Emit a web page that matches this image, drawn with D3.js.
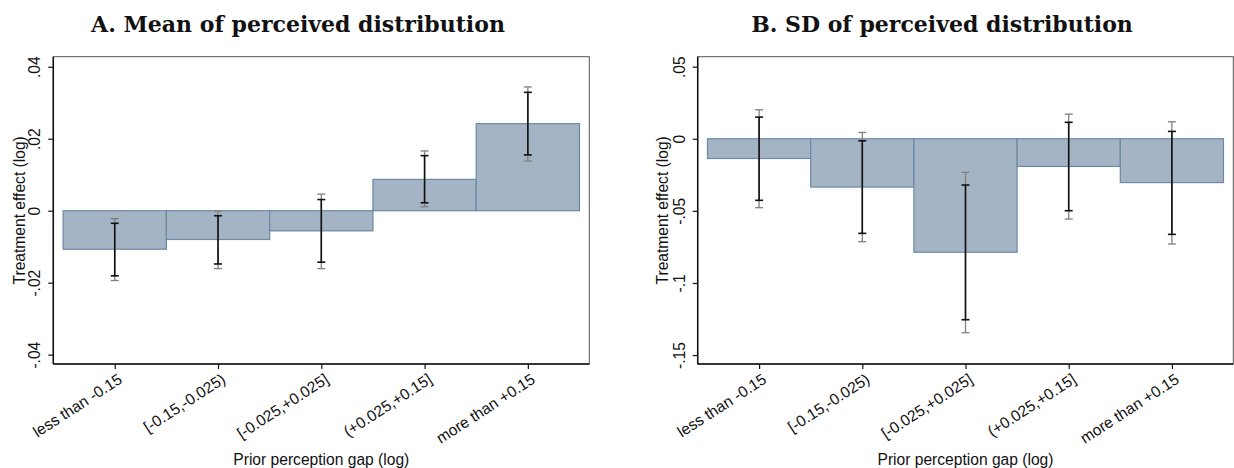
<!DOCTYPE html>
<html>
<head>
<meta charset="utf-8">
<script src="https://cdn.jsdelivr.net/npm/d3@7"></script>
<style>
  html, body { margin: 0; padding: 0; background: #fff; }
  svg { display: block; }
</style>
</head>
<body>
<svg id="chart" width="1234" height="468"></svg>
<script>
// ---------------- DATA ----------------
const categories = ["less than -0.15", "[-0.15,-0.025)", "[-0.025,+0.025]", "(+0.025,+0.15]", "more than +0.15"];

// Panel A: mean of perceived distribution
const meanEst  = [-0.0107, -0.0080, -0.0056, 0.0087, 0.0242];
const meanLo90 = [-0.0181, -0.0148, -0.0143, 0.0022, 0.0155];
const meanHi90 = [-0.0035, -0.0014, 0.0031, 0.0153, 0.0329];
const meanLo95 = [-0.0194, -0.0161, -0.0161, 0.0011, 0.0138];
const meanHi95 = [-0.0022, -0.0001, 0.0046, 0.0166, 0.0344];
const meanTicks = [-0.04, -0.02, 0, 0.02, 0.04];
const meanTickLabels = ["-.04", "-.02", "0", ".02", ".04"];

// Panel B: SD of perceived distribution
const sdEst  = [-0.0137, -0.0335, -0.0787, -0.0192, -0.0304];
const sdLo90 = [-0.0427, -0.0656, -0.1255, -0.0499, -0.0663];
const sdHi90 = [0.0150, -0.0014, -0.0321, 0.0114, 0.0051];
const sdLo95 = [-0.0478, -0.0714, -0.1345, -0.0557, -0.0730];
const sdHi95 = [0.0201, 0.0044, -0.0233, 0.0171, 0.0118];
const sdTicks = [-0.15, -0.1, -0.05, 0, 0.05];
const sdTickLabels = ["-.15", "-.1", "-.05", "0", ".05"];

const titles = ["A. Mean of perceived distribution", "B. SD of perceived distribution"];
const yTitle = "Treatment effect (log)";
const xTitle = "Prior perception gap (log)";

// ---------------- DRAW ----------------
const svg = d3.select("#chart");
const sansFont = "'Liberation Sans', Arial, sans-serif";
const serifFont = "'DejaVu Serif', 'Liberation Serif', serif";
const barFill = "#a5b4c4";
const barStroke = "#6a89a6";
const fs = 15.6;

function panel(opt) {
  const g = svg.append("g");
  const {left, right, top, bottom} = opt;
  const x = d3.scaleLinear().domain([0.405, 5.595]).range([left, right]);
  const y = d3.scaleLinear().domain(opt.yDomain).range([bottom, top]);

  const rows = categories.map((c, i) => ({
    c, i, pos: i + 1,
    est: opt.est[i], lo90: opt.lo90[i], hi90: opt.hi90[i], lo95: opt.lo95[i], hi95: opt.hi95[i]
  }));

  // plot region frame
  g.append("rect")
    .attr("x", left).attr("y", top)
    .attr("width", right - left).attr("height", bottom - top)
    .attr("fill", "#fff").attr("stroke", "#555").attr("stroke-width", 1);

  // bars
  g.selectAll("rect.bar").data(rows).enter().append("rect")
    .attr("class", "bar")
    .attr("x", d => x(d.pos - 0.5))
    .attr("width", d => x(d.pos + 0.5) - x(d.pos - 0.5))
    .attr("y", d => y(Math.max(0, d.est)))
    .attr("height", d => Math.abs(y(d.est) - y(0)))
    .attr("fill", barFill)
    .attr("stroke", barStroke)
    .attr("stroke-width", 1.2);

  // error bars
  function errbars(lo, hi, color, width, capHalf) {
    const eg = g.append("g");
    rows.forEach(d => {
      const cx = x(d.pos);
      eg.append("line").attr("x1", cx).attr("x2", cx)
        .attr("y1", y(d[lo])).attr("y2", y(d[hi]))
        .attr("stroke", color).attr("stroke-width", width);
      [lo, hi].forEach(k => {
        eg.append("line").attr("x1", cx - capHalf).attr("x2", cx + capHalf)
          .attr("y1", y(d[k])).attr("y2", y(d[k]))
          .attr("stroke", color).attr("stroke-width", width);
      });
    });
  }
  errbars("lo95", "hi95", "#808080", 1.3, 4);
  errbars("lo90", "hi90", "#111", 1.6, 4);

  // axes lines
  g.append("line").attr("x1", left).attr("x2", left).attr("y1", top).attr("y2", bottom)
    .attr("stroke", "#111").attr("stroke-width", 1.5);
  g.append("line").attr("x1", left).attr("x2", right).attr("y1", bottom).attr("y2", bottom)
    .attr("stroke", "#111").attr("stroke-width", 1.5);

  // y axis
  const yAxis = d3.axisLeft(y).tickValues(opt.ticks)
    .tickFormat((d, i) => opt.tickLabels[i]).tickSize(5).tickPadding(0);
  const ya = g.append("g").attr("transform", `translate(${left},0)`).call(yAxis);
  ya.select(".domain").remove();
  ya.selectAll(".tick line").attr("stroke", "#111").attr("stroke-width", 1.2);
  ya.selectAll(".tick text")
    .attr("x", null).attr("dy", null)
    .attr("transform", "translate(-13,0) rotate(-90)")
    .attr("text-anchor", "middle")
    .attr("font-family", sansFont).attr("font-size", fs).attr("fill", "#111");

  // x axis
  const xAxis = d3.axisBottom(x).tickValues(rows.map(d => d.pos))
    .tickFormat((d, i) => categories[i]).tickSize(5).tickPadding(0);
  const xa = g.append("g").attr("transform", `translate(0,${bottom})`).call(xAxis);
  xa.select(".domain").remove();
  xa.selectAll(".tick line").attr("stroke", "#111").attr("stroke-width", 1.2);
  xa.selectAll(".tick text")
    .attr("y", null).attr("dy", null)
    .attr("transform", "translate(8,18) rotate(-33)")
    .attr("text-anchor", "end")
    .attr("font-family", sansFont).attr("font-size", fs).attr("fill", "#111");

  // axis titles
  g.append("text")
    .attr("transform", `translate(${opt.yTitleX},${(top + bottom) / 2}) rotate(-90)`)
    .attr("text-anchor", "middle")
    .attr("font-family", sansFont).attr("font-size", fs).attr("fill", "#111")
    .text(yTitle);
  g.append("text")
    .attr("x", (left + right) / 2).attr("y", 465)
    .attr("text-anchor", "middle")
    .attr("font-family", sansFont).attr("font-size", fs).attr("fill", "#111")
    .text(xTitle);

  // panel title
  g.append("text")
    .attr("x", opt.titleX).attr("y", 32)
    .attr("text-anchor", "middle")
    .attr("font-family", serifFont).attr("font-weight", "bold")
    .attr("font-size", 22).attr("fill", "#111")
    .text(opt.title);
}

panel({
  left: 53.3, right: 589.3, top: 56.7, bottom: 364,
  yDomain: [-0.0426, 0.0428],
  est: meanEst, lo90: meanLo90, hi90: meanHi90, lo95: meanLo95, hi95: meanHi95,
  ticks: meanTicks, tickLabels: meanTickLabels,
  yTitleX: 25, titleX: 298, title: titles[0]
});

panel({
  left: 697.7, right: 1233.3, top: 56.7, bottom: 364,
  yDomain: [-0.1562, 0.0569],
  est: sdEst, lo90: sdLo90, hi90: sdHi90, lo95: sdLo95, hi95: sdHi95,
  ticks: sdTicks, tickLabels: sdTickLabels,
  yTitleX: 668, titleX: 942, title: titles[1]
});
</script>
</body>
</html>
